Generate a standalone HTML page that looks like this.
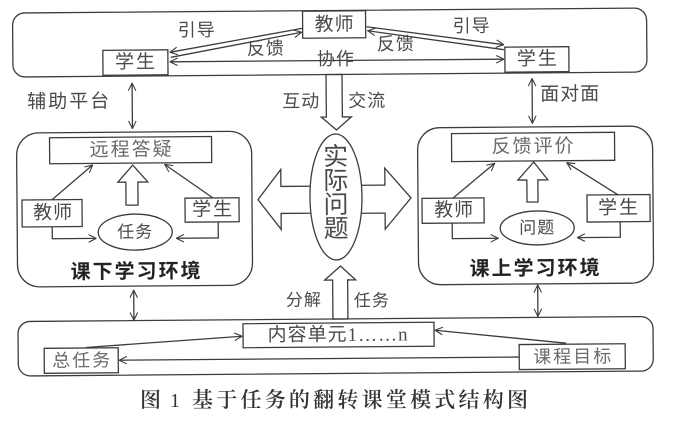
<!DOCTYPE html>
<html><head><meta charset="utf-8">
<style>
html,body{margin:0;padding:0;background:#fff;}
svg{display:block;}
.t{font-family:"Liberation Sans","Noto Sans CJK SC",sans-serif;fill:#4a4a4a;dominant-baseline:central;text-anchor:middle;}
.l{fill:#6a6a6a;}
.b{font-weight:bold;fill:#222;}
</style></head>
<body>
<svg width="675" height="426" viewBox="0 0 675 426" xmlns="http://www.w3.org/2000/svg">
<defs>
<marker id="a" viewBox="0 0 10 10" refX="9.5" refY="5" markerWidth="9" markerHeight="9" markerUnits="userSpaceOnUse" orient="auto-start-reverse">
<path d="M1,0.8 L9.5,5 L1,9.2" fill="none" stroke="#3c3c3c" stroke-width="1.2"/>
</marker>
</defs>
<rect width="675" height="426" fill="#fff"/>
<g transform="rotate(-0.45 337 200)" stroke="#3c3c3c" stroke-width="1.3" fill="none">
<rect x="14" y="10.5" width="634" height="64" rx="12"/>
<line x1="304" y1="28" x2="171" y2="51" marker-end="url(#a)"/>
<line x1="172" y1="56" x2="303" y2="32" marker-end="url(#a)"/>
<line x1="505" y1="60.5" x2="171" y2="60.5" marker-start="url(#a)" marker-end="url(#a)"/>
<line x1="368" y1="27" x2="505" y2="46" marker-end="url(#a)"/>
<line x1="505" y1="51" x2="369" y2="31" marker-end="url(#a)"/>
<rect x="304" y="11" width="63" height="27" fill="#fff"/>
<rect x="104" y="48.5" width="65" height="25" fill="#fff"/>
<rect x="506" y="48.5" width="64" height="25" fill="#fff"/>
<line x1="133" y1="81.5" x2="133" y2="127" marker-start="url(#a)" marker-end="url(#a)"/>
<line x1="533" y1="80" x2="533" y2="125" marker-start="url(#a)" marker-end="url(#a)"/>
<polygon points="327,74.5 343,74.5 343,117 352,117 337,130 322,117 327,117" fill="#fff"/>
<rect x="17" y="130.5" width="235" height="154" rx="22"/>
<rect x="418" y="128.5" width="235" height="157" rx="22"/>
<polygon points="320,186 281,186 281,169 258,199 281,229 281,213 320,213" fill="#fff"/>
<polygon points="352,185.5 385,185.5 385,168.5 411,198.5 385,229.5 385,213.5 352,213.5" fill="#fff"/>
<ellipse cx="336" cy="197" rx="26" ry="63" fill="#fff"/>
<rect x="50" y="135.5" width="162" height="26" fill="#fff"/>
<polygon points="126,203.5 126,180.5 118,180.5 133,163.5 148,180.5 138,180.5 138,203.5" fill="#fff"/>
<rect x="22" y="197.5" width="60" height="27" fill="#fff"/>
<rect x="185" y="197" width="54" height="24" fill="#fff"/>
<ellipse cx="135" cy="230.5" rx="37" ry="18"/>
<line x1="52" y1="197.5" x2="93" y2="163" marker-end="url(#a)"/>
<line x1="213" y1="197" x2="165" y2="163" marker-end="url(#a)"/>
<polyline points="52,224.5 52,236.5 96,236.5" marker-end="url(#a)"/>
<polyline points="218,221 218,237 176,237" marker-end="url(#a)"/>
<rect x="452" y="134.5" width="163" height="28" fill="#fff"/>
<polygon points="527,203.5 527,181.5 518,181.5 534,163.5 548,181.5 538,181.5 538,203.5" fill="#fff"/>
<rect x="422" y="199" width="62" height="25" fill="#fff"/>
<rect x="587" y="197" width="63" height="27" fill="#fff"/>
<ellipse cx="537" cy="229.5" rx="37" ry="17"/>
<line x1="453" y1="199" x2="495" y2="164.5" marker-end="url(#a)"/>
<line x1="618" y1="197" x2="567" y2="164.5" marker-end="url(#a)"/>
<polyline points="452,224 452,239.5 498,239.5" marker-end="url(#a)"/>
<polyline points="620,224 620,239.5 577,239.5" marker-end="url(#a)"/>
<line x1="133" y1="288.5" x2="133" y2="318.5" marker-start="url(#a)" marker-end="url(#a)"/>
<line x1="537" y1="286.5" x2="537" y2="318" marker-start="url(#a)" marker-end="url(#a)"/>
<polygon points="332,319 332,280 324,280 340,266 355,280 347,280 347,319" fill="#fff"/>
<rect x="17" y="319" width="635" height="54.5" rx="12"/>
<line x1="85" y1="345.5" x2="241" y2="335.5" marker-end="url(#a)"/>
<line x1="565" y1="345" x2="434" y2="331" marker-end="url(#a)"/>
<line x1="518" y1="358.5" x2="118" y2="358.5" marker-end="url(#a)"/>
<rect x="242" y="323" width="191" height="24" fill="#fff"/>
<rect x="43" y="346" width="74" height="25" fill="#fff"/>
<rect x="518" y="346" width="106" height="25" fill="#fff"/>
</g>
<g transform="rotate(-0.45 337 200)" stroke="none">
<text class="t" x="336" y="25" font-size="19" letter-spacing="1">教师</text>
<text class="t" x="137" y="61" font-size="19" letter-spacing="2">学生</text>
<text class="t" x="539" y="61" font-size="19" letter-spacing="2">学生</text>
<text class="t" x="198" y="29" font-size="18" letter-spacing="1">引导</text>
<text class="t" x="267" y="48" font-size="18" letter-spacing="1">反馈</text>
<text class="t" x="473" y="27" font-size="18" letter-spacing="1">引导</text>
<text class="t" x="397" y="44.5" font-size="18" letter-spacing="1">反馈</text>
<text class="t" x="337" y="59" font-size="18" letter-spacing="1">协作</text>
<text class="t" x="70" y="100" font-size="19" letter-spacing="2">辅助平台</text>
<text class="t" x="571" y="96.5" font-size="19" letter-spacing="1">面对面</text>
<text class="t" x="302" y="101" font-size="18" letter-spacing="1">互动</text>
<text class="t" x="368" y="101" font-size="18" letter-spacing="1">交流</text>
<text class="t" x="336" y="157" font-size="25">实</text>
<text class="t" x="336" y="181" font-size="25">际</text>
<text class="t" x="336" y="205" font-size="25">问</text>
<text class="t" x="336" y="229" font-size="25">题</text>
<text class="t l" x="132" y="148.5" font-size="19" letter-spacing="2">远程答疑</text>
<text class="t" x="53" y="211" font-size="19" letter-spacing="1">教师</text>
<text class="t" x="213" y="209" font-size="19" letter-spacing="2">学生</text>
<text class="t" x="135" y="230.5" font-size="17" letter-spacing="1">任务</text>
<text class="t b" x="136" y="270.5" font-size="20" letter-spacing="2">课下学习环境</text>
<text class="t l" x="534" y="148.5" font-size="19" letter-spacing="2">反馈评价</text>
<text class="t" x="454" y="211.5" font-size="19" letter-spacing="1">教师</text>
<text class="t" x="619" y="210.5" font-size="19" letter-spacing="2">学生</text>
<text class="t" x="537" y="229.5" font-size="17" letter-spacing="1">问题</text>
<text class="t b" x="535" y="270.5" font-size="20" letter-spacing="2">课上学习环境</text>
<text class="t" x="303" y="300" font-size="17" letter-spacing="1">分解</text>
<text class="t" x="371" y="301" font-size="17" letter-spacing="1">任务</text>
<text class="t" x="337" y="335" font-size="19" letter-spacing="1">内容单元<tspan font-family="Liberation Serif, serif" font-size="19">1……n</tspan></text>
<text class="t l" x="81" y="358.5" font-size="18" letter-spacing="2">总任务</text>
<text class="t l" x="572" y="358.5" font-size="18" letter-spacing="2">课程目标</text>
</g>
<g font-family="'Liberation Serif','Noto Serif CJK SC',serif" fill="#333" font-size="21" font-weight="600">
<text x="140" y="407">图</text>
<text x="170" y="407" font-size="20" font-weight="normal">1</text>
<text x="192" y="407" textLength="336" lengthAdjust="spacing">基于任务的翻转课堂模式结构图</text>
</g>
</svg>
</body></html>
